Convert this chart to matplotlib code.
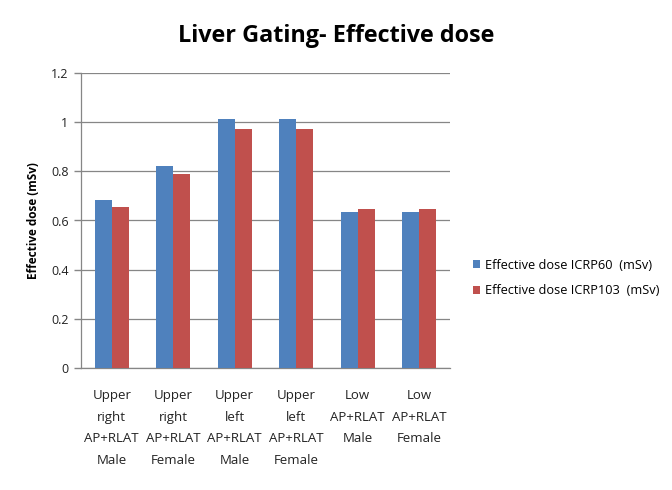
import matplotlib
matplotlib.use("Agg")
import matplotlib.pyplot as plt
import numpy as np

plt.rcParams['font.family'] = ['Open Sans', 'DejaVu Sans']

categories = ["Upper\nright\nAP+RLAT\nMale", "Upper\nright\nAP+RLAT\nFemale",
              "Upper\nleft\nAP+RLAT\nMale", "Upper\nleft\nAP+RLAT\nFemale",
              "Low\nAP+RLAT\nMale", "Low\nAP+RLAT\nFemale"]
icrp60 = [0.683, 0.822, 1.013, 1.013, 0.635, 0.635]
icrp103 = [0.656, 0.789, 0.972, 0.972, 0.647, 0.647]
series_names = ["Effective dose ICRP60  (mSv)", "Effective dose ICRP103  (mSv)"]
yticks = [0, 0.2, 0.4, 0.6, 0.8, 1.0, 1.2]
ytick_labels = ["0", "0.2", "0.4", "0.6", "0.8", "1", "1.2"]

fig = plt.figure(figsize=(6.72, 4.9), dpi=100)
ax = fig.add_axes([81/672, 1-368/490, (450-81)/672, (368-73)/490])

x = np.arange(len(categories))
w = 0.275
ax.bar(x - w/2, icrp60, w, color="#4F81BD", label=series_names[0], zorder=3)
ax.bar(x + w/2, icrp103, w, color="#C0504D", label=series_names[1], zorder=3)

ax.set_xlim(-0.5, len(categories) - 0.5)
ax.set_ylim(0, 1.2)
ax.set_yticks(yticks)
ax.set_yticklabels(ytick_labels, fontsize=9, color="#222222")
ax.set_xticks(x)
ax.set_xticklabels(categories, fontsize=9.5, color="#222222", linespacing=1.87)
ax.tick_params(axis='x', length=0, pad=15)
ax.tick_params(axis='y', length=5, color="#868686", width=1, pad=4)
ax.grid(axis='y', color="#868686", linewidth=0.9, zorder=0)
for s in ['top', 'right']:
    ax.spines[s].set_visible(False)
for s in ['left', 'bottom']:
    ax.spines[s].set_color("#868686")
    ax.spines[s].set_linewidth(0.9)

ax.set_ylabel("Effective dose (mSv)", fontsize=8.5, fontweight='bold', labelpad=8)
fig.text(336/672, 1-36/490, "Liver Gating- Effective dose", fontsize=16.8,
         fontweight='bold', ha='center', va='center')

leg = fig.legend(loc='upper left', bbox_to_anchor=(461/672, 1-247/490),
                 frameon=False, fontsize=9.2, handlelength=0.6, handleheight=0.6,
                 handletextpad=0.35, labelspacing=1.0)

fig.savefig("out.png", dpi=100)
